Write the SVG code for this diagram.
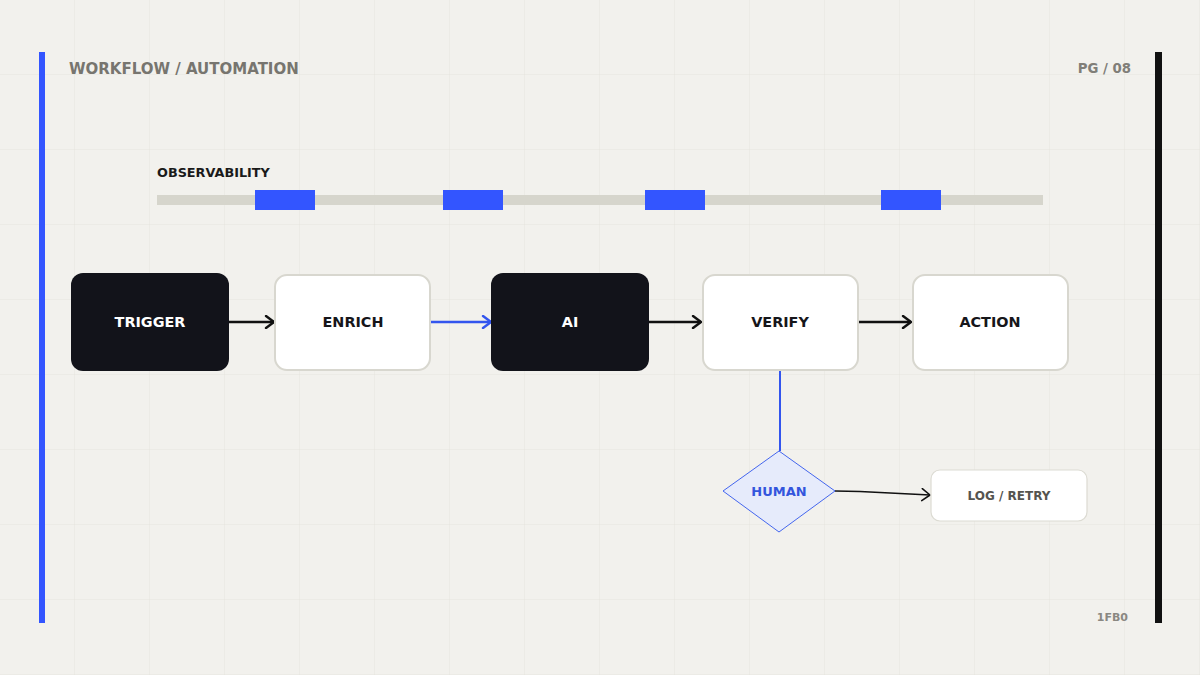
<svg xmlns="http://www.w3.org/2000/svg" width="1200" height="675" viewBox="0 0 1200 675">
<defs>
<pattern id="grid" width="75" height="75" patternUnits="userSpaceOnUse">
<path d="M75 0 V75 M0 75 H75" fill="none" stroke="#e6e5de" stroke-width="1"/>
</pattern>
<marker id="ah" markerWidth="14" markerHeight="14" refX="12" refY="7" orient="auto" markerUnits="userSpaceOnUse">
<path d="M4 1 L12 7 L4 13" fill="none" stroke="#111" stroke-width="2.4" stroke-linecap="round" stroke-linejoin="round"/>
</marker>
<marker id="ahb" markerWidth="14" markerHeight="14" refX="12" refY="7" orient="auto" markerUnits="userSpaceOnUse">
<path d="M4 1 L12 7 L4 13" fill="none" stroke="#3355ee" stroke-width="2.4" stroke-linecap="round" stroke-linejoin="round"/>
</marker>
<marker id="ahs" markerWidth="14" markerHeight="14" refX="12" refY="7" orient="auto" markerUnits="userSpaceOnUse">
<path d="M4 1 L12 7 L4 13" fill="none" stroke="#111" stroke-width="1.6" stroke-linecap="round" stroke-linejoin="round"/>
</marker>
</defs>
<style>
text{font-family:"DejaVu Sans","Noto Sans",sans-serif;font-weight:bold}
.dark rect{fill:#12131a}
.dark text{fill:#ffffff;font-size:14.4px}
.light rect{fill:#ffffff;stroke:#d8d7cf;stroke-width:2}
.light text{fill:#16161a;font-size:14.4px}
.edge{fill:none;stroke:#111;stroke-width:2.4}
.blk{fill:#3355ff}
</style>
<rect width="1200" height="675" fill="#f2f1ed"/>
<rect width="1200" height="675" fill="url(#grid)"/>
<rect x="39" y="52" width="6" height="571" fill="#3355ff"/>
<rect x="1155" y="52" width="7" height="571" fill="#111"/>
<text x="69" y="74" font-size="15" fill="#77756f">WORKFLOW / AUTOMATION</text>
<text x="1131" y="73" font-size="13.3" fill="#807e78" text-anchor="end">PG / 08</text>
<text x="1128" y="621" font-size="11" fill="#8a8882" text-anchor="end">1FB0</text>
<g id="observability">
<text x="157" y="177" font-size="12.8" fill="#1a1a1a">OBSERVABILITY</text>
<rect x="157" y="195" width="886" height="10" fill="#d6d5cc"/>
<rect class="blk" x="255" y="190" width="60" height="20"/>
<rect class="blk" x="443" y="190" width="60" height="20"/>
<rect class="blk" x="645" y="190" width="60" height="20"/>
<rect class="blk" x="881" y="190" width="60" height="20"/>
</g>
<g id="connectors">
<line class="edge" x1="229" y1="322" x2="274" y2="322" marker-end="url(#ah)"/>
<line class="edge" x1="431" y1="322" x2="491" y2="322" style="stroke:#3355ee" marker-end="url(#ahb)"/>
<line class="edge" x1="649" y1="322" x2="701" y2="322" marker-end="url(#ah)"/>
<line class="edge" x1="858" y1="322" x2="911" y2="322" marker-end="url(#ah)"/>
<line x1="780" y1="371" x2="780" y2="451" stroke="#3355ee" stroke-width="2"/>
<path d="M835 491 L860 491.5 L930 495" fill="none" stroke="#111" stroke-width="1.4" marker-end="url(#ahs)"/>
</g>
<g id="trigger" class="dark">
<rect x="71" y="273" width="158" height="98" rx="12"/>
<text x="150" y="327" text-anchor="middle">TRIGGER</text>
</g>
<g id="enrich" class="light">
<rect x="275" y="275" width="155" height="95" rx="12"/>
<text x="353" y="327" text-anchor="middle">ENRICH</text>
</g>
<g id="ai" class="dark">
<rect x="491" y="273" width="158" height="98" rx="12"/>
<text x="570" y="327" text-anchor="middle">AI</text>
</g>
<g id="verify" class="light">
<rect x="703" y="275" width="155" height="95" rx="12"/>
<text x="780" y="327" text-anchor="middle">VERIFY</text>
</g>
<g id="action" class="light">
<rect x="913" y="275" width="155" height="95" rx="12"/>
<text x="990" y="327" text-anchor="middle">ACTION</text>
</g>
<g id="human">
<polygon points="779,451 835,491 779,532 723,491" fill="#e6ebfb" stroke="#4466ee" stroke-width="1"/>
<text x="779" y="496" text-anchor="middle" font-size="13" fill="#3355dd">HUMAN</text>
</g>
<g id="log-retry">
<rect x="931" y="470" width="156" height="51" rx="9" fill="#ffffff" stroke="#dcdbd3" stroke-width="1.2"/>
<text x="1009" y="500" text-anchor="middle" font-size="12" fill="#55544f">LOG / RETRY</text>
</g>
</svg>
